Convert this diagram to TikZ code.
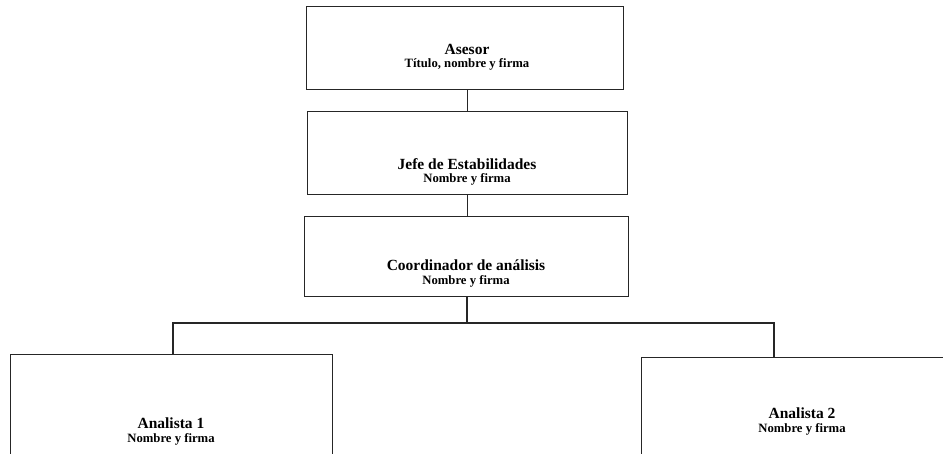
\documentclass[tikz,border=0pt]{standalone}
\usepackage{fontspec}
\setmainfont{Liberation Serif}
\begin{document}
\begin{tikzpicture}[x=1pt,y={(0,-1pt)},
  box/.style={draw=black!85,line width=1.1pt,inner sep=0pt,anchor=north west},
  ttl/.style={font=\fontsize{15.5}{16}\selectfont\bfseries,anchor=base,inner sep=0pt},
  sub/.style={font=\fontsize{12.7}{13}\selectfont\bfseries,anchor=base,inner sep=0pt},
  link/.style={draw=black!85,line width=1.1pt}]
\useasboundingbox (0,0) rectangle (943,453);
\clip (0,0) rectangle (943,453);
% boxes
\node[box,minimum width=317pt,minimum height=83pt] (asesor) at (306,6) {};
\node[box,minimum width=320pt,minimum height=83pt] (jefe) at (307,111) {};
\node[box,minimum width=324pt,minimum height=80pt] (coord) at (304,216) {};
\node[box,minimum width=322pt,minimum height=130pt] (an1) at (10,354) {};
\node[box,minimum width=322pt,minimum height=130pt] (an2) at (641,357) {};
% texts
\node[ttl] (asesorT) at (467,54) {Asesor};
\node[sub] (asesorS) at (467,67.5) {Título, nombre y firma};
\node[ttl] (jefeT) at (467,169) {Jefe de Estabilidades};
\node[sub] (jefeS) at (467,182.5) {Nombre y firma};
\node[ttl] (coordT) at (466,270) {Coordinador de análisis};
\node[sub] (coordS) at (466,284.5) {Nombre y firma};
\node[ttl] (an1T) at (171,428) {Analista 1};
\node[sub] (an1S) at (171,442) {Nombre y firma};
\node[ttl] (an2T) at (802,418) {Analista 2};
\node[sub] (an2S) at (802,432) {Nombre y firma};
% connectors
\coordinate (bar) at (467,323);
\coordinate (d1) at (173,323);
\coordinate (d2) at (774,323);
\draw[link] (jefe.north) -- (jefe.north |- asesor.south);
\draw[link] (jefe.south) -- (jefe.south |- coord.north);
\draw[link] (coord.south -| bar) -- (bar);
\draw[link] (d1 |- an1.north) -- (d1) -- (d2) -- (d2 |- an2.north);
\end{tikzpicture}
\end{document}
